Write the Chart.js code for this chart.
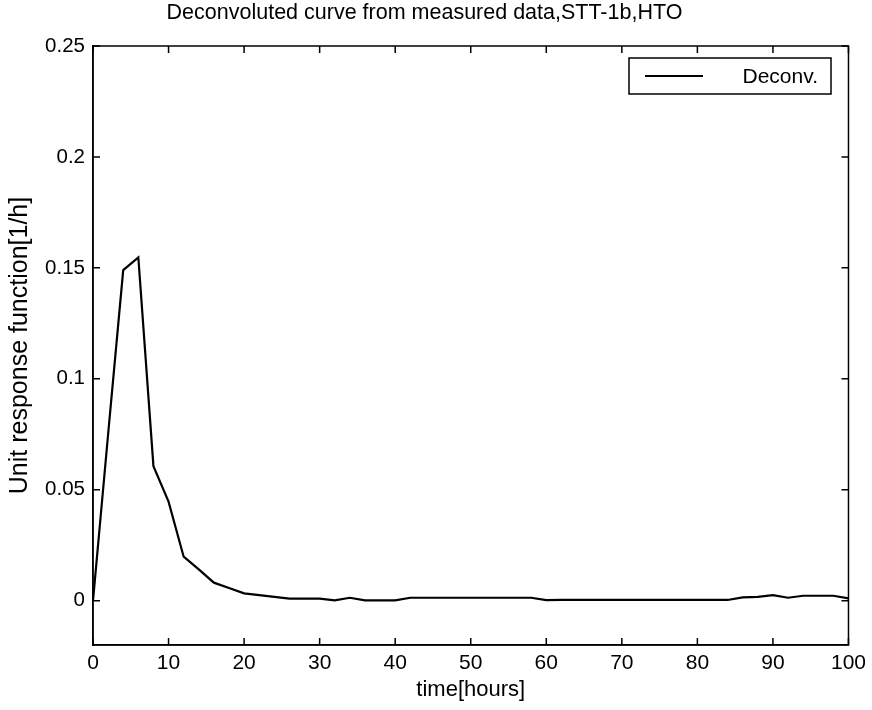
<!DOCTYPE html>
<html>
<head>
<meta charset="utf-8">
<script src="https://cdn.jsdelivr.net/npm/chart.js@4.4.1/dist/chart.umd.min.js"></script>
<style>
  html, body { margin: 0; padding: 0; background: #fff; }
  #wrap { width: 872px; height: 710px; }
</style>
</head>
<body>
<div id="wrap"><canvas id="c" width="872" height="710"></canvas></div>
<script>
// time axis (hours), one sample every 2 h
const times = [0, 2, 4, 6, 8, 10, 12, 14, 16, 18, 20, 22, 24, 26, 28, 30, 32, 34, 36, 38, 40,
               42, 44, 46, 48, 50, 52, 54, 56, 58, 60, 62, 64, 66, 68, 70, 72, 74, 76, 78, 80,
               82, 84, 86, 88, 90, 92, 94, 96, 98, 100];

// deconvoluted unit response [1/h]
const unitResponse = [0, 0.075, 0.149, 0.1547, 0.0606, 0.0446, 0.0198, 0.0141, 0.0081, 0.0057, 0.0033,
                      0.0025, 0.0017, 0.0009, 0.0009, 0.0009, 0.0001, 0.0013, 0.0001, 0.0001, 0.0001,
                      0.0013, 0.0013, 0.0013, 0.0013, 0.0013, 0.0013, 0.0013, 0.0013, 0.0013, 0.0002,
                      0.0003, 0.0003, 0.0003, 0.0003, 0.0003, 0.0003, 0.0003, 0.0003, 0.0003, 0.0003,
                      0.0003, 0.0003, 0.0015, 0.0017, 0.0025, 0.0013, 0.0022, 0.0022, 0.0022, 0.001];

const xTicks = [0, 10, 20, 30, 40, 50, 60, 70, 80, 90, 100];
const yTicks = [0, 0.05, 0.1, 0.15, 0.2, 0.25];
const yTickLabels = ["0", "0.05", "0.1", "0.15", "0.2", "0.25"];

const seriesName = "Deconv.";
const titleText = "Deconvoluted curve from measured data,STT-1b,HTO";

const fontFamily = "'Liberation Sans', Arial, Helvetica, sans-serif";

// MATLAB-like frame: box round the plot, ticks pointing inwards on all sides, legend box
const matlabFrame = {
    id: "matlabFrame",
    afterDraw: function(chart) {
        const ctx = chart.ctx;
        const a = chart.chartArea;
        const xs = chart.scales.x;
        const ys = chart.scales.y;
        const tl = 7;
        ctx.save();
        ctx.strokeStyle = "#000";
        ctx.lineWidth = 1.5;
        ctx.strokeRect(a.left, a.top, a.right - a.left, a.bottom - a.top);
        ctx.beginPath();
        xTicks.forEach(function(v) {
            const px = xs.getPixelForValue(v);
            ctx.moveTo(px, a.bottom); ctx.lineTo(px, a.bottom - tl);
            ctx.moveTo(px, a.top); ctx.lineTo(px, a.top + tl);
        });
        yTicks.forEach(function(v) {
            const py = ys.getPixelForValue(v);
            ctx.moveTo(a.left, py); ctx.lineTo(a.left + tl, py);
            ctx.moveTo(a.right, py); ctx.lineTo(a.right - tl, py);
        });
        ctx.stroke();

        // legend
        const bx = 629, by = 58, bw = 202, bh = 36;
        ctx.fillStyle = "#fff";
        ctx.fillRect(bx, by, bw, bh);
        ctx.lineWidth = 1.5;
        ctx.strokeRect(bx, by, bw, bh);
        ctx.lineWidth = 2;
        ctx.beginPath();
        ctx.moveTo(bx + 16, by + bh / 2);
        ctx.lineTo(bx + 74, by + bh / 2);
        ctx.stroke();
        ctx.fillStyle = "#000";
        ctx.font = "21px " + fontFamily;
        ctx.textAlign = "right";
        ctx.textBaseline = "middle";
        ctx.fillText(chart.data.datasets[0].label, bx + bw - 13, by + bh / 2 + 1);
        ctx.restore();
    }
};

new Chart(document.getElementById("c").getContext("2d"), {
    type: "line",
    data: {
        datasets: [{
            label: seriesName,
            data: times.map(function(t, i) { return { x: t, y: unitResponse[i] }; }),
            borderColor: "#000",
            borderWidth: 2.2,
            pointRadius: 0,
            tension: 0,
            fill: false
        }]
    },
    options: {
        responsive: false,
        animation: false,
        layout: { padding: { top: 0, right: 23, bottom: 0, left: 0 } },
        plugins: {
            legend: { display: false },
            tooltip: { enabled: false },
            title: {
                display: true,
                text: titleText,
                color: "#000",
                font: { family: fontFamily, size: 21.5, weight: "normal" },
                padding: { top: 0, bottom: 20.2 }
            }
        },
        scales: {
            x: {
                type: "linear",
                min: 0,
                max: 100,
                afterBuildTicks: function(scale) {
                    scale.ticks = xTicks.map(function(v) { return { value: v }; });
                },
                afterFit: function(scale) { scale.height = 65; },
                grid: { display: false, drawTicks: false },
                border: { display: true, color: "#000", width: 1.5 },
                ticks: {
                    color: "#000",
                    padding: 6,
                    maxRotation: 0,
                    font: { family: fontFamily, size: 21 }
                },
                title: {
                    display: true,
                    text: "time[hours]",
                    color: "#000",
                    font: { family: fontFamily, size: 22 },
                    padding: { top: 0, bottom: 7 }
                }
            },
            y: {
                type: "linear",
                min: -0.02,
                max: 0.25,
                afterBuildTicks: function(scale) {
                    scale.ticks = yTicks.map(function(v) { return { value: v }; });
                },
                afterFit: function(scale) { scale.width = 93; },
                grid: { display: false, drawTicks: false },
                border: { display: true, color: "#000", width: 1.5 },
                ticks: {
                    color: "#000",
                    padding: 8,
                    font: { family: fontFamily, size: 20.5 },
                    callback: function(value) {
                        const i = yTicks.indexOf(value);
                        return i >= 0 ? yTickLabels[i] : "";
                    }
                },
                title: {
                    display: true,
                    text: "Unit response function[1/h]",
                    color: "#000",
                    font: { family: fontFamily, size: 25 },
                    padding: { top: 5, bottom: 0 }
                }
            }
        }
    },
    plugins: [matlabFrame]
});
</script>
</body>
</html>
